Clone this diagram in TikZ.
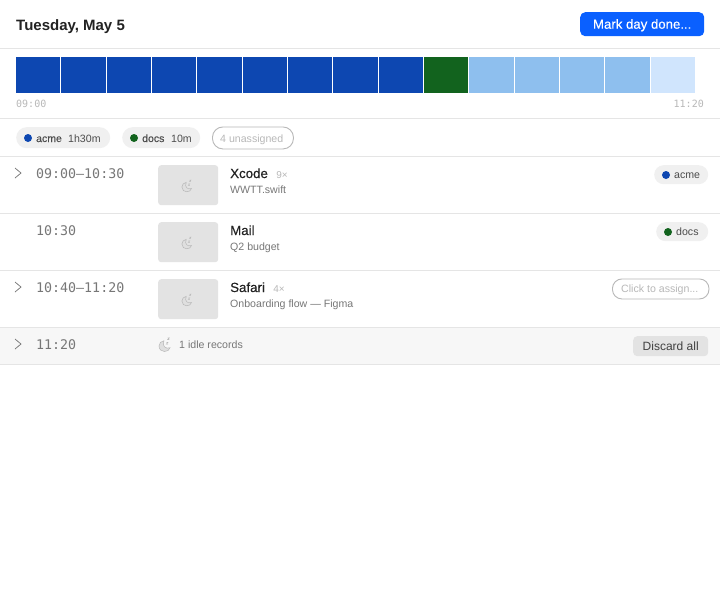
\documentclass[tikz,border=0pt]{standalone}
\usepackage{fontspec}
\setmainfont{Liberation Sans}
\setmonofont{DejaVu Sans Mono}
\newfontfamily\medfont[FakeBold=0.25]{Liberation Sans}
\usetikzlibrary{positioning}

\definecolor{ruleline}{HTML}{E5E5E5}
\definecolor{acmeblue}{HTML}{0D47B1}
\definecolor{docsgreen}{HTML}{12631E}
\definecolor{softblue}{HTML}{8EBFEE}
\definecolor{paleblue}{HTML}{D0E5FD}
\definecolor{btnblue}{HTML}{0A60FF}
\definecolor{pillgray}{HTML}{F0F0F0}
\definecolor{thumbgray}{HTML}{E3E3E3}
\definecolor{idlerow}{HTML}{F7F7F7}
\definecolor{inkdark}{HTML}{222222}
\definecolor{inkmid}{HTML}{777777}
\definecolor{inklight}{HTML}{B8B8B8}

\tikzset{
  txt/.style={inner sep=0pt, anchor=base west},
  timetxt/.style={txt, font=\ttfamily\fontsize{13.3}{13.3}\selectfont, text=inkmid},
  ticktxt/.style={txt, font=\ttfamily\fontsize{10}{10}\selectfont, text=inklight},
  apptxt/.style={txt, font=\medfont\fontsize{13.3}{13.3}\selectfont, text=inkdark},
  subtxt/.style={txt, font=\fontsize{10.6}{10.6}\selectfont, text=inkmid},
  counttxt/.style={txt, font=\fontsize{10}{10}\selectfont, text=inklight},
  pilltxt/.style={txt, font=\fontsize{10.6}{10.6}\selectfont, text=black!70},
  seg/.style={draw=none, inner sep=0pt, minimum height=36pt, anchor=north west},
  thumb/.style={fill=thumbgray, inner sep=0pt, minimum width=60pt, minimum height=40pt, rounded corners=3pt, anchor=north west},
  pill/.style={fill=pillgray, inner sep=0pt, rounded corners=9.5pt, anchor=north west},
  ghostpill/.style={draw=black!28, line width=0.9pt, fill=white, inner sep=0pt, rounded corners=9.5pt, anchor=north west},
  dot/.style={circle, inner sep=0pt, minimum size=8pt},
  chevron/.style={draw=black!55, line width=0.7pt},
  hline/.style={draw=ruleline, line width=1pt},
  moonicon/.pic={
    \draw[line width=0.5pt, draw=inklight, fill=inklight!45] (-0.5,-4.6) .. controls (-3,-4.2) and (-4.8,-2.5) .. (-4.8,0)
      .. controls (-4.8,3) and (-2.5,4.8) .. (0,4.8) .. controls (2.5,4.8) and (4.2,3.5) .. (4.8,1.5)
      .. controls (1,3) and (-2.5,0) .. (-0.5,-4.6) -- cycle;
    \draw[line width=0.5pt, draw=inklight] (1.6,-3.2) -- (3.1,-3.2) -- (1.6,-1.7) -- (3.1,-1.7);
    \draw[line width=0.5pt, draw=inklight] (2.8,-7) -- (4.2,-7) -- (2.8,-5.6) -- (4.2,-5.6);
  }
}

\begin{document}
\begin{tikzpicture}[x=1pt, y=-1pt]
    \useasboundingbox (0,0) rectangle (720,600);
    \fill[white] (0,0) rectangle (720,600);

    % Header
    \node (daytitle) [txt, font=\bfseries\fontsize{15}{15}\selectfont, text=inkdark] at (16,30) {Tuesday, May 5};
    \node (donebtn) [fill=btnblue, rounded corners=5pt, inner sep=0pt, minimum width=124pt, minimum height=24pt, anchor=north west,
        text=white, text height=9.5pt, text depth=0.5pt, font=\medfont\fontsize{13.2}{13.2}\selectfont] at (580,12) {Mark day done...};

    % Timeline strip
    \foreach \i/\xa/\w/\col in {0/16/44/acmeblue,1/61/45/acmeblue,2/107/44/acmeblue,3/152/44/acmeblue,4/197/45/acmeblue,
        5/243/44/acmeblue,6/288/44/acmeblue,7/333/45/acmeblue,8/379/44/acmeblue,9/424/44/docsgreen,
        10/469/45/softblue,11/515/44/softblue,12/560/44/softblue,13/605/45/softblue,14/651/44/paleblue}
        \node (seg\i) [seg, fill=\col, minimum width=\w pt] at (\xa,57) {};
    \node (tickstart) [ticktxt] at (16,107) {09:00};
    \node (tickend) [ticktxt, anchor=base east] at (704,107) {11:20};

    % Summary pills
    \node (sumacme) [pill, minimum width=94pt, minimum height=21pt, rounded corners=10.5pt] at (16,127) {};
    \node (sumacmedot) [dot, fill=acmeblue] at (28,138) {};
    \node (sumacmetxt) [pilltxt, font=\medfont\fontsize{10.5}{10.5}\selectfont] at (36,142) {acme};
    \node (sumacmetime) [pilltxt] at (68,142) {1h30m};
    \node (sumdocs) [pill, minimum width=78pt, minimum height=21pt, rounded corners=10.5pt] at (122,127) {};
    \node (sumdocsdot) [dot, fill=docsgreen] at (134,138) {};
    \node (sumdocstxt) [pilltxt, font=\medfont\fontsize{10.5}{10.5}\selectfont] at (142,142) {docs};
    \node (sumdocstime) [pilltxt] at (171,142) {10m};
    \node (sumopen) [ghostpill, minimum width=81pt, minimum height=22pt, rounded corners=10.5pt] at (212,126.5) {};
    \node (sumopentxt) [pilltxt, text=inklight] at (220,142) {4 unassigned};

    % Idle row background
    \fill[idlerow] (0,327) rectangle (720,364);

    % Rules
    \foreach \y in {48,118,156,213,270,327,364}
        \draw[hline] (0,\y) -- (720,\y);

    % Row 1
    \draw[chevron] (15,168) -- (21,173) -- (15,178);
    \node (timea) [timetxt] at (36,178) {09:00—10:30};
    \node (thumba) [thumb] at (158,165) {};
    \pic at (186.7,187) {moonicon};
    \node (appa) [apptxt] at (230,178) {Xcode};
    \node (counta) [counttxt, right=8pt of appa.base east, anchor=base west] {9×};
    \node (suba) [subtxt] at (230,193) {WWTT.swift};
    \node (taga) [pill, minimum width=54pt, minimum height=19pt] at (654,165) {};
    \node (tagadot) [dot, fill=acmeblue] at (666,175) {};
    \node (tagatxt) [pilltxt] at (674,178.5) {acme};

    % Row 2
    \node (timeb) [timetxt] at (36,235) {10:30};
    \node (thumbb) [thumb] at (158,222) {};
    \pic at (186.7,244) {moonicon};
    \node (appb) [apptxt] at (230,235) {Mail};
    \node (subb) [subtxt] at (230,250) {Q2 budget};
    \node (tagb) [pill, minimum width=52pt, minimum height=19pt] at (656,222) {};
    \node (tagbdot) [dot, fill=docsgreen] at (668,232) {};
    \node (tagbtxt) [pilltxt] at (676,235.5) {docs};

    % Row 3
    \draw[chevron] (15,282) -- (21,287) -- (15,292);
    \node (timec) [timetxt] at (36,292) {10:40—11:20};
    \node (thumbc) [thumb] at (158,279) {};
    \pic at (186.7,301) {moonicon};
    \node (appc) [apptxt] at (230,292) {Safari};
    \node (countc) [counttxt, right=8pt of appc.base east, anchor=base west] {4×};
    \node (subc) [subtxt] at (230,307) {Onboarding flow — Figma};
    \node (tagc) [ghostpill, minimum width=96.5pt, minimum height=20pt] at (612,278.5) {};
    \node (tagctxt) [pilltxt, text=inklight] at (621,292) {Click to assign...};

    % Idle row
    \draw[chevron] (15,339) -- (21,344) -- (15,349);
    \node (timed) [timetxt] at (36,349) {11:20};
    \pic[scale=1.15] at (164.5,346) {moonicon};
    \node (idletxt) [subtxt] at (179,348) {1 idle records};
    \node (discard) [fill=thumbgray, rounded corners=4pt, inner sep=0pt, minimum width=75pt, minimum height=20pt, anchor=north west,
        text=black!75, font=\fontsize{12}{12}\selectfont] at (633,336) {Discard all};
\end{tikzpicture}
\end{document}
